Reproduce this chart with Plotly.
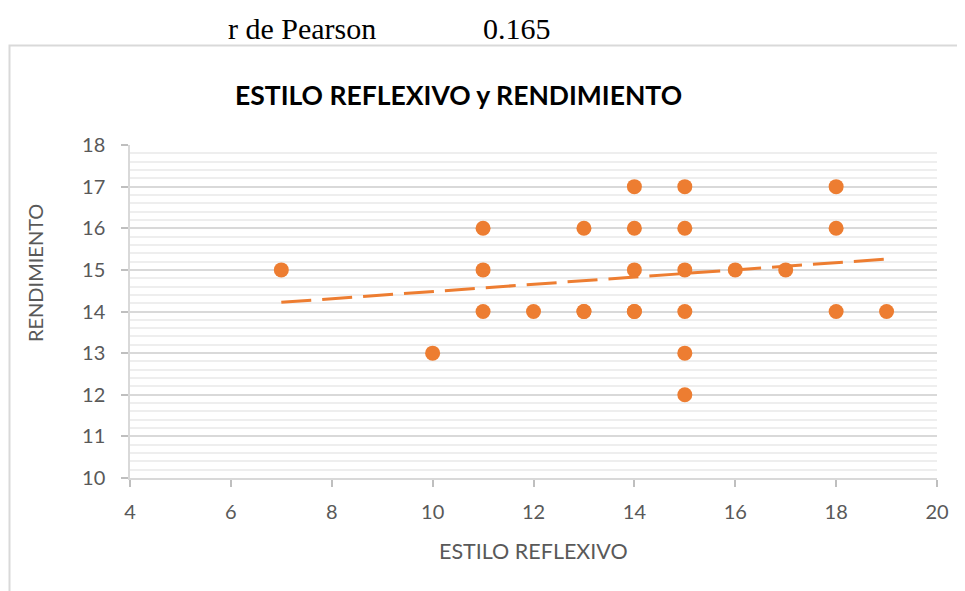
import plotly.graph_objects as go

# Data
estilo_reflexivo = [7, 10, 11, 11, 11, 12, 13, 13, 13, 14, 14, 14, 14, 14, 15, 15, 15, 15, 15, 15, 16, 17, 18, 18, 18, 19]
rendimiento =      [15, 13, 16, 15, 14, 14, 16, 14, 14, 17, 16, 15, 14, 14, 17, 16, 15, 14, 13, 12, 15, 15, 17, 16, 14, 14]
trend_x = [7, 19]
trend_y = [14.22, 15.26]
x_ticks = [4, 6, 8, 10, 12, 14, 16, 18, 20]
y_ticks = [10, 11, 12, 13, 14, 15, 16, 17, 18]
pearson_r = "0.165"

ORANGE = "#ED7D31"
GREY_TXT = "#595959"
FONT = "Lato"

# page has an 8px body margin, so the figure is 8px smaller and everything is offset
OFF = 8
W, H = 965 - OFF, 591 - OFF
ML, MR, MT, MB = 130 - OFF, 28, 145 - OFF, 113
PW, PH = W - ML - MR, H - MT - MB

def px_x(px):
    return (px - OFF - ML) / PW

def px_y(py):
    return (H - MB - (py - OFF)) / PH

fig = go.Figure()
fig.add_trace(go.Scatter(
    x=trend_x, y=trend_y, mode="lines",
    line=dict(color=ORANGE, width=3, dash="30px,11px"),
    hoverinfo="skip", showlegend=False))
fig.add_trace(go.Scatter(
    x=estilo_reflexivo, y=rendimiento, mode="markers",
    marker=dict(color=ORANGE, size=15, line=dict(width=0)),
    showlegend=False))

fig.update_layout(
    width=W, height=H,
    margin=dict(l=ML, r=MR, t=MT, b=MB, pad=0),
    paper_bgcolor="white", plot_bgcolor="white",
    font=dict(family=FONT, color=GREY_TXT, size=20),
    showlegend=False,
    xaxis=dict(
        range=[4, 20], tickvals=x_ticks, showgrid=False, zeroline=False,
        showline=True, linecolor="#d9d9d9", linewidth=1.5,
        ticks="outside", ticklen=7, tickcolor="#bfbfbf", tickwidth=1.5,
        ticklabelstandoff=8,
        tickfont=dict(size=20, color=GREY_TXT, family=FONT),
    ),
    yaxis=dict(
        range=[10, 18], tickvals=y_ticks, showgrid=True, gridcolor="#d9d9d9", gridwidth=1.5,
        zeroline=False, showline=True, linecolor="#d9d9d9", linewidth=1.5,
        ticks="outside", ticklen=7, tickcolor="#bfbfbf", tickwidth=1.5,
        ticklabelstandoff=12,
        tickfont=dict(size=20, color=GREY_TXT, family=FONT),
        minor=dict(dtick=0.2, showgrid=True, gridcolor="#eeeeee", gridwidth=1.5, ticks=""),
    ),
    shapes=[
        dict(type="path", xref="paper", yref="paper",
             path=f"M {px_x(9.5)} {px_y(600)} L {px_x(9.5)} {px_y(45.5)} L {px_x(975)} {px_y(45.5)}",
             line=dict(color="#d9d9d9", width=2), layer="below"),
    ],
    annotations=[
        dict(text="<b>ESTILO REFLEXIVO y RENDIMIENTO</b>", xref="paper", yref="paper",
             x=px_x(458), y=px_y(95), xanchor="center", yanchor="middle", showarrow=False,
             font=dict(family=FONT, size=26.5, color="#000000")),
        dict(text="r de Pearson", xref="paper", yref="paper",
             x=px_x(226), y=px_y(28), xanchor="left", yanchor="middle", showarrow=False,
             font=dict(family="Liberation Serif", size=30, color="#000000")),
        dict(text=pearson_r, xref="paper", yref="paper",
             x=px_x(481), y=px_y(28), xanchor="left", yanchor="middle", showarrow=False,
             font=dict(family="Liberation Serif", size=30, color="#000000")),
        dict(text="RENDIMIENTO", xref="paper", yref="paper",
             x=px_x(35), y=px_y(273), xanchor="center", yanchor="middle", showarrow=False,
             textangle=-90, font=dict(family=FONT, size=20, color=GREY_TXT)),
        dict(text="ESTILO REFLEXIVO", xref="paper", yref="paper",
             x=px_x(533), y=px_y(551), xanchor="center", yanchor="middle", showarrow=False,
             font=dict(family=FONT, size=21.5, color=GREY_TXT)),
    ],
)

fig.write_html("out.html")
